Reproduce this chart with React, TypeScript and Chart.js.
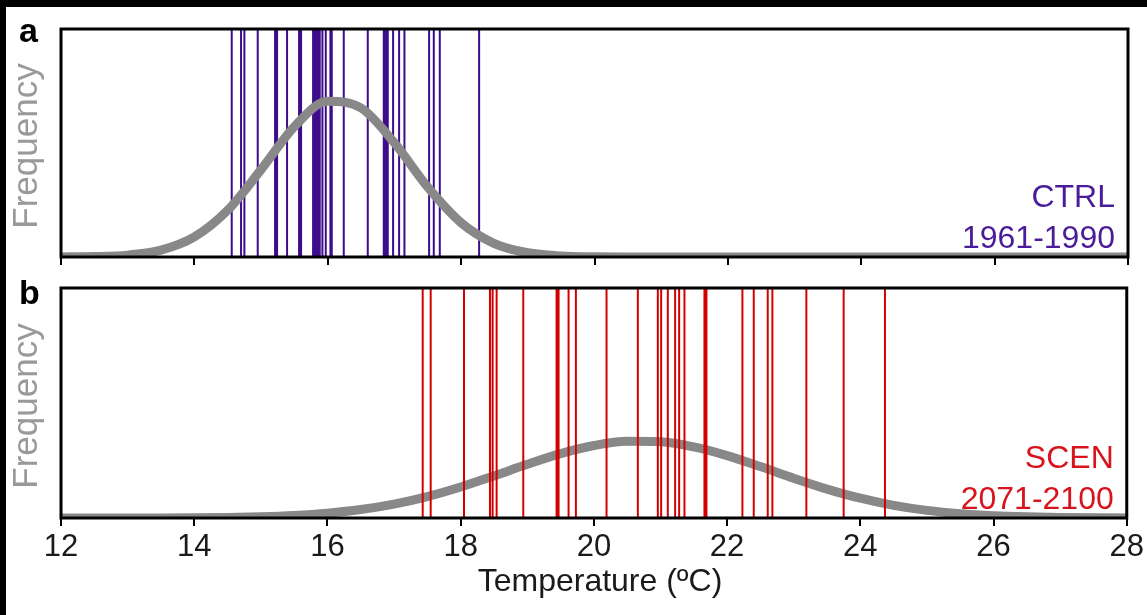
import React, { useEffect, useRef } from "react";
import { Chart, registerables } from "chart.js";
Chart.register(...registerables);

// ---- data ----
const xTickValues = [12, 14, 16, 18, 20, 22, 24, 26, 28];

// CTRL 1961-1990 yearly mean temperatures (°C)
const ctrlYears = [
  14.56, 14.7, 14.75, 14.95, 15.21, 15.24, 15.39, 15.57, 15.6, 15.78,
  15.8, 15.83, 15.86, 15.88, 15.92, 15.97, 16.04, 16.06, 16.24, 16.6,
  16.84, 16.87, 16.9, 16.98, 17.07, 17.15, 17.52, 17.59, 17.68, 18.27,
];

// SCEN 2071-2100 yearly mean temperatures (°C)
const scenYears = [
  17.43, 17.55, 18.05, 18.44, 18.48, 18.54, 18.94, 19.44, 19.47, 19.62,
  19.73, 20.19, 20.66, 20.96, 21.01, 21.11, 21.22, 21.28, 21.36, 21.66,
  21.69, 22.23, 22.4, 22.61, 22.68, 23.19, 23.75, 24.37,
];

// fitted distribution curves, sampled every 0.5 °C (relative frequency)
const curveTemps = [
  12, 12.5, 13, 13.5, 14, 14.5, 15, 15.5, 16, 16.5, 17, 17.5, 18, 18.5, 19, 19.5,
  20, 20.5, 21, 21.5, 22, 22.5, 23, 23.5, 24, 24.5, 25, 25.5, 26, 26.5, 27, 27.5, 28,
];
const ctrlCurve = [
  0.0003, 0.0018, 0.0083, 0.0303, 0.0882, 0.2054, 0.383, 0.5717, 0.6831, 0.6534,
  0.5003, 0.3064, 0.1504, 0.0591, 0.0186, 0.0047, 0.0009, 0.0002, 0, 0,
  0, 0, 0, 0, 0, 0, 0, 0, 0, 0, 0, 0, 0,
];
const scenCurve = [
  0, 0.0001, 0.0002, 0.0005, 0.0012, 0.0027, 0.0058, 0.0114, 0.0212, 0.0369,
  0.0605, 0.0931, 0.1347, 0.183, 0.2335, 0.2799, 0.3152, 0.3333, 0.3313, 0.3092,
  0.2713, 0.2235, 0.173, 0.1257, 0.0859, 0.0551, 0.0332, 0.0188, 0.01, 0.005,
  0.0023, 0.001, 0.0004,
];

const FONT = "'Liberation Sans', Arial, Helvetica, sans-serif";

const framePlugin = {
  id: "frame",
  afterDraw(chart: any) {
    const o = chart.options.plugins.frame || {};
    const { ctx, chartArea } = chart;
    const { left, top, right, bottom } = chartArea;
    ctx.save();
    ctx.strokeStyle = "#000";
    ctx.lineWidth = 3;
    ctx.strokeRect(left, top, right - left, bottom - top);

    // panel letter
    ctx.fillStyle = "#000";
    ctx.font = `bold 34px ${FONT}`;
    ctx.textAlign = "left";
    ctx.textBaseline = "alphabetic";
    ctx.fillText(o.letter, 19, o.letterY);

    // Frequency label
    ctx.save();
    ctx.translate(37, (top + bottom) / 2 + 3);
    ctx.rotate(-Math.PI / 2);
    ctx.fillStyle = "#999999";
    ctx.font = `35px ${FONT}`;
    ctx.textAlign = "center";
    ctx.fillText("Frequency", 0, 0);
    ctx.restore();

    // run label
    ctx.fillStyle = o.color;
    ctx.font = `32px ${FONT}`;
    ctx.textAlign = "right";
    ctx.fillText(o.lines[0], right - 13, bottom - 50);
    ctx.fillText(o.lines[1], right - 13, bottom - 9);

    if (o.xTitle) {
      ctx.fillStyle = "#1a1a1a";
      ctx.font = `32px ${FONT}`;
      ctx.textAlign = "center";
      ctx.textBaseline = "middle";
      ctx.fillText(o.xTitle, 600, o.xTitleY);
    }
    ctx.restore();
  },
};

function makeConfig(
  years: number[],
  curve: number[],
  lineColor: string,
  showLabels: boolean,
  padding: any,
  axisHeight: number,
  frame: any,
  linesOnTop: boolean
) {
  const lineData: any[] = [];
  years.forEach((v) => {
    lineData.push({ x: v, y: 0 }, { x: v, y: 1 }, { x: v, y: null });
  });
  const curveData = curveTemps.map((t, i) => ({ x: t, y: curve[i] }));
  const linesDs: any = {
    data: lineData,
    borderColor: lineColor,
    borderWidth: 2,
    pointRadius: 0,
    tension: 0,
    spanGaps: false,
    clip: 0,
    order: linesOnTop ? 0 : 1,
  };
  const curveDs: any = {
    data: curveData,
    borderColor: "#888888",
    borderWidth: 9,
    pointRadius: 0,
    cubicInterpolationMode: "monotone",
    clip: 0,
    order: linesOnTop ? 1 : 0,
  };
  return {
    type: "line",
    data: { datasets: [linesDs, curveDs] },
    options: {
      animation: false,
      responsive: false,
      devicePixelRatio: 1,
      layout: { padding },
      plugins: { legend: { display: false }, tooltip: { enabled: false }, frame },
      scales: {
        x: {
          type: "linear",
          min: 12,
          max: 28,
          afterBuildTicks: (s: any) => {
            s.ticks = xTickValues.map((v) => ({ value: v }));
          },
          afterFit: (s: any) => {
            s.height = axisHeight;
          },
          border: { display: false },
          grid: {
            drawOnChartArea: false,
            drawTicks: true,
            tickLength: 8,
            color: "#000",
            lineWidth: 2,
          },
          ticks: {
            display: showLabels,
            autoSkip: false,
            maxRotation: 0,
            padding: 3,
            color: "#1a1a1a",
            font: { family: FONT, size: 31 },
          },
        },
        y: { display: false, min: 0, max: 1 },
      },
    },
    plugins: [framePlugin],
  };
}

export default function App() {
  const refA = useRef<HTMLCanvasElement>(null);
  const refB = useRef<HTMLCanvasElement>(null);

  useEffect(() => {
    const a = new Chart(
      refA.current as any,
      makeConfig(
        ctrlYears,
        ctrlCurve,
        "#3c0c8c",
        false,
        { left: 61, right: 19, top: 29, bottom: 8 },
        10,
        { letter: "a", letterY: 42, color: "#4a1c9a", lines: ["CTRL", "1961-1990"] },
        false
      ) as any
    );
    const b = new Chart(
      refB.current as any,
      makeConfig(
        scenYears,
        scenCurve,
        "#d40000",
        true,
        { left: 61, right: 19, top: 13, bottom: 0 },
        97,
        {
          letter: "b",
          letterY: 29,
          color: "#d7141c",
          lines: ["SCEN", "2071-2100"],
          xTitle: "Temperature (ºC)",
          xTitleY: 307,
        },
        true
      ) as any
    );
    return () => {
      a.destroy();
      b.destroy();
    };
  }, []);

  return (
    <div style={{ position: "fixed", left: 0, top: 0, width: 1147, height: 615, background: "#000", overflow: "hidden" }}>
      <div style={{ position: "absolute", left: 6, top: 7, width: 1141, height: 608, background: "#fff" }} />
      <canvas ref={refA} width={1147} height={275} style={{ position: "absolute", left: 0, top: 0, width: 1147, height: 275 }} />
      <canvas ref={refB} width={1147} height={340} style={{ position: "absolute", left: 0, top: 275, width: 1147, height: 340 }} />
    </div>
  );
}
